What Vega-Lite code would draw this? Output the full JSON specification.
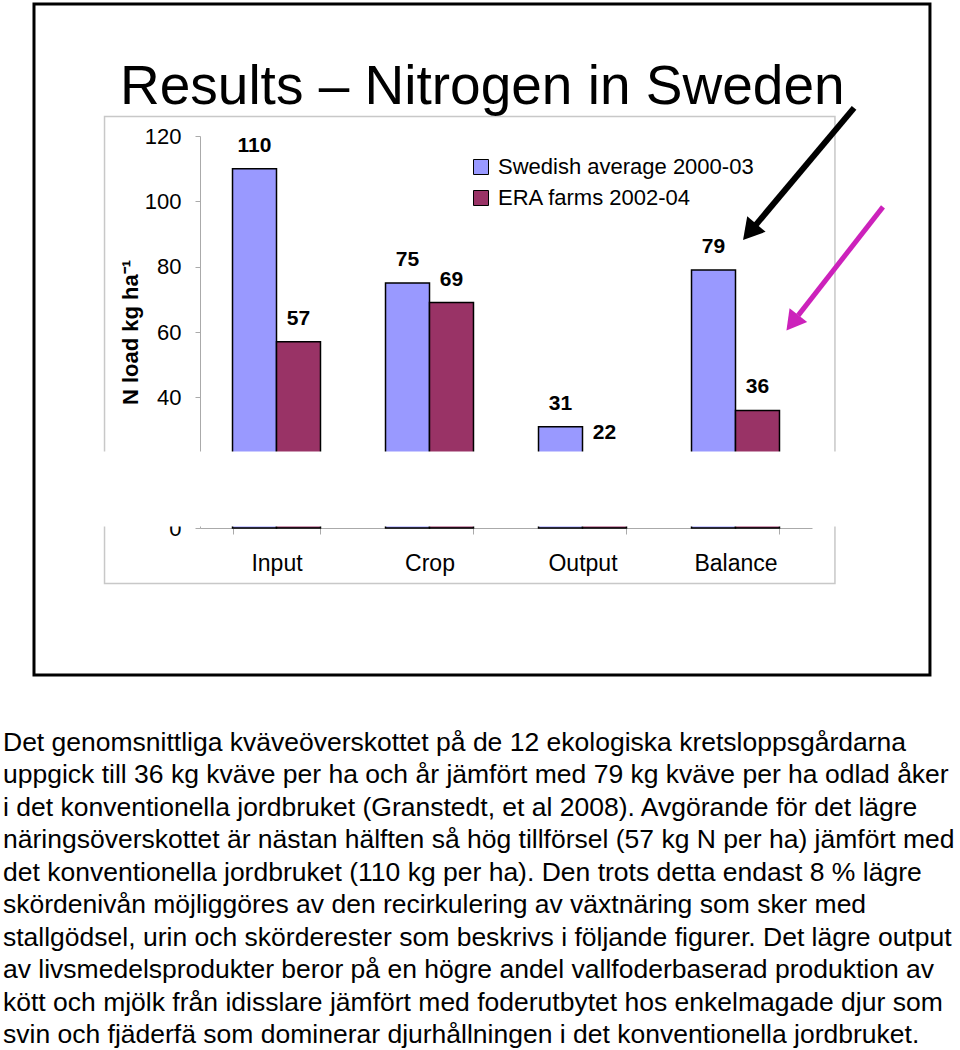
{
  "$schema": "https://vega.github.io/schema/vega-lite/v6.json",
  "autosize": {"type": "none"},
  "width": 612,
  "height": 392,
  "padding": {"left": 200, "top": 136, "right": 148, "bottom": 522},
  "background": "white",
  "config": {"font": "Liberation Sans", "view": {"stroke": null}},
  "title": {
    "text": "Results – Nitrogen in Sweden",
    "anchor": "start",
    "frame": "group",
    "fontSize": 55,
    "fontWeight": "normal",
    "font": "Liberation Sans",
    "color": "#000",
    "baseline": "alphabetic",
    "dx": -80,
    "offset": -156.5
  },
  "datasets": {
    "nload": [
      {"category": "Input", "series": "Swedish average 2000-03", "value": 110},
      {"category": "Input", "series": "ERA farms 2002-04", "value": 57},
      {"category": "Crop", "series": "Swedish average 2000-03", "value": 75},
      {"category": "Crop", "series": "ERA farms 2002-04", "value": 69},
      {"category": "Output", "series": "Swedish average 2000-03", "value": 31},
      {"category": "Output", "series": "ERA farms 2002-04", "value": 22},
      {"category": "Balance", "series": "Swedish average 2000-03", "value": 79},
      {"category": "Balance", "series": "ERA farms 2002-04", "value": 36}
    ],
    "note": [
      {"text": "Det genomsnittliga kväveöverskottet på de 12 ekologiska kretsloppsgårdarna\nuppgick till 36 kg kväve per ha och år jämfört med 79 kg kväve per ha odlad åker\ni det konventionella jordbruket (Granstedt, et al 2008).  Avgörande för det lägre\nnäringsöverskottet är nästan hälften så hög tillförsel (57 kg N per ha) jämfört med\ndet konventionella jordbruket (110 kg per ha). Den trots detta endast 8 % lägre\nskördenivån möjliggöres av den recirkulering av växtnäring som sker med\nstallgödsel, urin och skörderester som beskrivs i följande figurer. Det lägre output\nav livsmedelsprodukter beror på en högre andel vallfoderbaserad produktion av\nkött och mjölk från idisslare jämfört med foderutbytet hos enkelmagade djur som\nsvin och fjäderfä som dominerar djurhållningen i det konventionella jordbruket."}
    ]
  },
  "layer": [
    {
      "data": {"values": [{}]},
      "mark": {"type": "rect", "filled": false, "color": "#c8c8c8", "strokeWidth": 1.5},
      "encoding": {
        "x": {"datum": -0.624, "type": "quantitative", "scale": {"domain": [0, 4], "nice": false, "zero": false}, "axis": null},
        "x2": {"datum": 4.15},
        "y": {"datum": 126.0, "type": "quantitative", "scale": {"domain": [0, 120], "nice": false}},
        "y2": {"datum": -17.0}
      }
    },
    {
      "data": {"name": "nload"},
      "encoding": {
        "x": {
          "field": "category", "type": "nominal",
          "sort": ["Input", "Crop", "Output", "Balance"],
          "scale": {"paddingInner": 0.425, "paddingOuter": 0.2125},
          "axis": {
            "title": null, "labelAngle": 0, "labelFontSize": 23, "labelColor": "#000",
            "labelPadding": 18, "tickBand": "extent", "tickSize": 6,
            "tickColor": "#aaaaaa", "domainColor": "#aaaaaa"
          }
        },
        "xOffset": {"field": "series", "type": "nominal", "sort": ["Swedish average 2000-03", "ERA farms 2002-04"]},
        "y": {
          "field": "value", "type": "quantitative",
          "scale": {"domain": [0, 120], "nice": false},
          "axis": {
            "title": "N load kg ha⁻¹", "values": [0, 20, 40, 60, 80, 100, 120], "grid": false,
            "tickSize": 5, "tickColor": "#aaaaaa", "domainColor": "#aaaaaa",
            "labelFontSize": 22, "labelColor": "#000", "labelPadding": 14,
            "titleFontSize": 22, "titleFontWeight": "bold", "titleColor": "#000", "titlePadding": 2
          }
        }
      },
      "layer": [
        {
          "mark": {"type": "bar", "stroke": "#000", "strokeWidth": 1.5},
          "encoding": {
            "color": {
              "field": "series", "type": "nominal",
              "scale": {"domain": ["Swedish average 2000-03", "ERA farms 2002-04"], "range": ["#9999ff", "#993366"]},
              "legend": {
                "title": null, "orient": "none", "legendX": 270, "legendY": 20,
                "symbolType": "square", "symbolSize": 225, "symbolStrokeColor": "#000", "symbolStrokeWidth": 1,
                "labelFontSize": 22, "labelColor": "#000", "labelOffset": 6, "rowPadding": 9, "padding": 0,
                "labelFont": "Liberation Sans", "labelLimit": 0
              }
            }
          }
        },
        {
          "mark": {"type": "text", "dy": -23, "fontSize": 21, "fontWeight": "bold", "color": "#000"},
          "encoding": {"text": {"field": "value", "type": "quantitative"}}
        }
      ]
    },
    {
      "data": {"values": [{}]},
      "mark": {"type": "rect", "color": "white"},
      "encoding": {
        "x": {"datum": -0.66, "type": "quantitative", "scale": {"domain": [0, 4], "nice": false, "zero": false}, "axis": null},
        "x2": {"datum": 4.18},
        "y": {"datum": 23.4, "type": "quantitative", "scale": {"domain": [0, 120], "nice": false}},
        "y2": {"datum": 0.45}
      }
    },
    {
      "data": {"values": [{}]},
      "mark": {"type": "rule", "color": "#000", "strokeWidth": 6},
      "encoding": {
        "x": {"datum": 4.275, "type": "quantitative", "scale": {"domain": [0, 4], "nice": false, "zero": false}, "axis": null},
        "x2": {"datum": 3.633},
        "y": {"datum": 128.6, "type": "quantitative", "scale": {"domain": [0, 120], "nice": false}},
        "y2": {"datum": 92.8}
      }
    },
    {
      "data": {"values": [{}]},
      "mark": {"type": "point", "shape": "triangle-up", "filled": true, "size": 576, "angle": 220, "color": "#000", "opacity": 1},
      "encoding": {
        "x": {"datum": 3.593, "type": "quantitative", "scale": {"domain": [0, 4], "nice": false, "zero": false}, "axis": null},
        "y": {"datum": 90.6, "type": "quantitative", "scale": {"domain": [0, 120], "nice": false}}
      }
    },
    {
      "data": {"values": [{}]},
      "mark": {"type": "rule", "color": "#cc22bb", "strokeWidth": 5},
      "encoding": {
        "x": {"datum": 4.464, "type": "quantitative", "scale": {"domain": [0, 4], "nice": false, "zero": false}, "axis": null},
        "x2": {"datum": 3.91},
        "y": {"datum": 98.3, "type": "quantitative", "scale": {"domain": [0, 120], "nice": false}},
        "y2": {"datum": 65.1}
      }
    },
    {
      "data": {"values": [{}]},
      "mark": {"type": "point", "shape": "triangle-up", "filled": true, "size": 500, "angle": 218, "color": "#cc22bb", "opacity": 1},
      "encoding": {
        "x": {"datum": 3.872, "type": "quantitative", "scale": {"domain": [0, 4], "nice": false, "zero": false}, "axis": null},
        "y": {"datum": 62.8, "type": "quantitative", "scale": {"domain": [0, 120], "nice": false}}
      }
    },
    {
      "data": {"values": [{}]},
      "mark": {"type": "rect", "filled": false, "color": "#000", "strokeWidth": 3},
      "encoding": {
        "x": {"datum": -1.085, "type": "quantitative", "scale": {"domain": [0, 4], "nice": false, "zero": false}, "axis": null},
        "x2": {"datum": 4.771},
        "y": {"datum": 160.4, "type": "quantitative", "scale": {"domain": [0, 120], "nice": false}},
        "y2": {"datum": -45.0}
      }
    },
    {
      "data": {"name": "note"},
      "mark": {"type": "text", "align": "left", "baseline": "alphabetic", "fontSize": 26.5, "lineHeight": 32.45, "lineBreak": "\n", "color": "#000", "font": "Liberation Sans"},
      "encoding": {
        "x": {"datum": -1.2876, "type": "quantitative", "scale": {"domain": [0, 4], "nice": false, "zero": false}, "axis": null},
        "y": {"datum": -68.26, "type": "quantitative", "scale": {"domain": [0, 120], "nice": false}},
        "text": {"field": "text", "type": "nominal"}
      }
    }
  ],
  "resolve": {"scale": {"x": "independent"}}
}
